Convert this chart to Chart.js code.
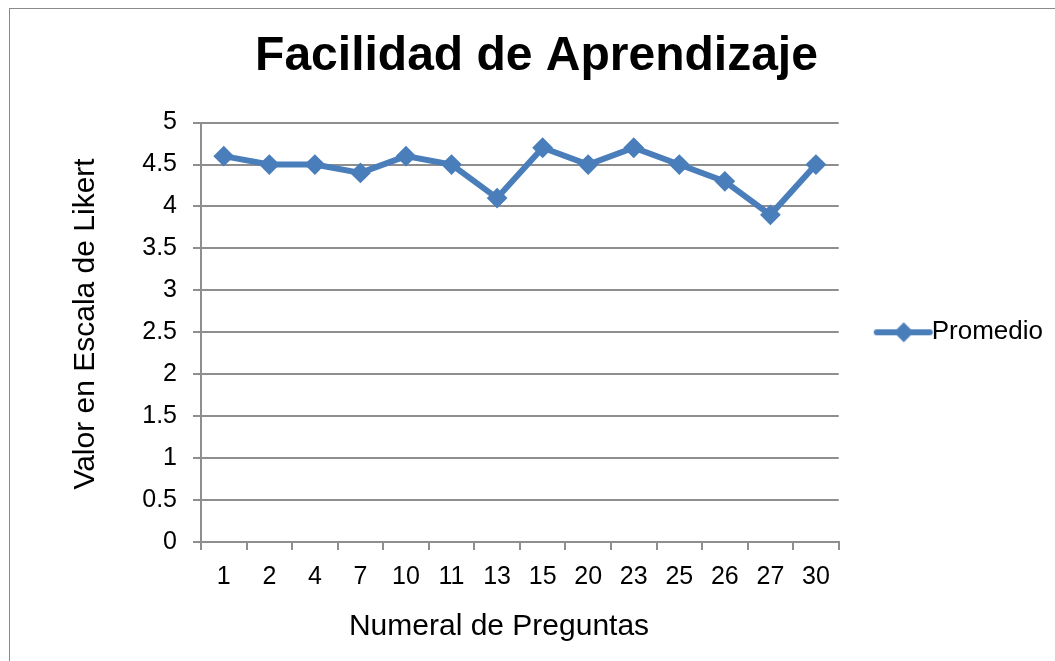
<!DOCTYPE html>
<html>
<head>
<meta charset="utf-8">
<script src="https://cdn.jsdelivr.net/npm/chart.js@4.4.1/dist/chart.umd.min.js"></script>
<style>
    html, body { margin: 0; padding: 0; background: #fff; overflow: hidden; }
    #wrap { position: relative; width: 1055px; height: 661px; }
    #marco { position: absolute; left: 9px; top: 8px; width: 1100px; height: 700px; border: 1px solid #8a8a8a; }
    #grafico { position: absolute; left: 0; top: 0; }
</style>
</head>
<body>
<div id="wrap">
    <div id="marco"></div>
    <canvas id="grafico" width="1055" height="661"></canvas>
</div>
<script>
// datos
const preguntas = ["1", "2", "4", "7", "10", "11", "13", "15", "20", "23", "25", "26", "27", "30"];
const promedio = [4.6, 4.5, 4.5, 4.4, 4.6, 4.5, 4.1, 4.7, 4.5, 4.7, 4.5, 4.3, 3.9, 4.5];
const yMin = 0;
const yMax = 5;
const yPaso = 0.5;

const azul = "#4a7ebb";
const gris = "#8e8e8e";
const fuente = "'Liberation Sans', Arial, sans-serif";

// icono de la leyenda: línea con rombo
const icono = document.createElement("canvas");
icono.width = 70;
icono.height = 24;
(() => {
    const c = icono.getContext("2d");
    c.strokeStyle = azul;
    c.lineWidth = 6;
    c.lineCap = "round";
    c.beginPath();
    c.moveTo(12, 12);
    c.lineTo(65, 12);
    c.stroke();
    c.fillStyle = azul;
    c.beginPath();
    c.moveTo(39, 2);
    c.lineTo(49, 12);
    c.lineTo(39, 22);
    c.lineTo(29, 12);
    c.closePath();
    c.fill();
})();

const ctx = document.getElementById("grafico").getContext("2d");

new Chart(ctx, {
    type: "line",
    data: {
        labels: preguntas,
        datasets: [
            {
                label: "Promedio",
                data: promedio,
                borderColor: azul,
                backgroundColor: azul,
                borderWidth: 6,
                tension: 0,
                pointStyle: "rectRot",
                pointRadius: 9,
                pointBorderWidth: 2,
                pointBackgroundColor: azul,
                pointBorderColor: azul
            }
        ]
    },
    options: {
        responsive: false,
        animation: false,
        layout: {
            padding: { left: 20, right: 2, top: 0, bottom: 0 }
        },
        plugins: {
            title: {
                display: true,
                text: "Facilidad de Aprendizaje",
                color: "#000",
                font: { family: fuente, size: 48, weight: "bold" },
                padding: { top: 28, bottom: 37 }
            },
            legend: {
                position: "right",
                fullSize: false,
                labels: {
                    usePointStyle: true,
                    pointStyle: icono,
                    pointStyleWidth: 38,
                    padding: 42,
                    color: "#000",
                    font: { family: fuente, size: 26 }
                }
            },
            tooltip: { enabled: false }
        },
        scales: {
            x: {
                offset: true,
                grid: {
                    offset: true,
                    drawOnChartArea: false,
                    drawTicks: true,
                    tickLength: 8,
                    color: gris,
                    lineWidth: 2
                },
                border: { color: gris, width: 2 },
                ticks: {
                    color: "#000",
                    padding: 12,
                    maxRotation: 0,
                    autoSkip: false,
                    font: { family: fuente, size: 25 }
                },
                title: {
                    display: true,
                    text: "Numeral de Preguntas\u00a0\u00a0\u00a0\u00a0\u00a0",
                    color: "#000",
                    font: { family: fuente, size: 30 },
                    padding: { top: 0, bottom: 16 }
                },
                afterFit: (scale) => { scale.height = 119; }
            },
            y: {
                min: yMin,
                max: yMax,
                grid: {
                    color: gris,
                    lineWidth: 2,
                    tickLength: 8
                },
                border: { color: gris, width: 2 },
                ticks: {
                    stepSize: yPaso,
                    color: "#000",
                    padding: 16,
                    font: { family: fuente, size: 25 },
                    callback: (val) => String(val)
                },
                title: {
                    display: true,
                    text: "\u00a0\u00a0Valor en Escala de Likert",
                    color: "#000",
                    font: { family: fuente, size: 30 },
                    padding: { top: 48, bottom: 0 }
                },
                afterFit: (scale) => { scale.width = 181; }
            }
        }
    }
});
</script>
</body>
</html>
